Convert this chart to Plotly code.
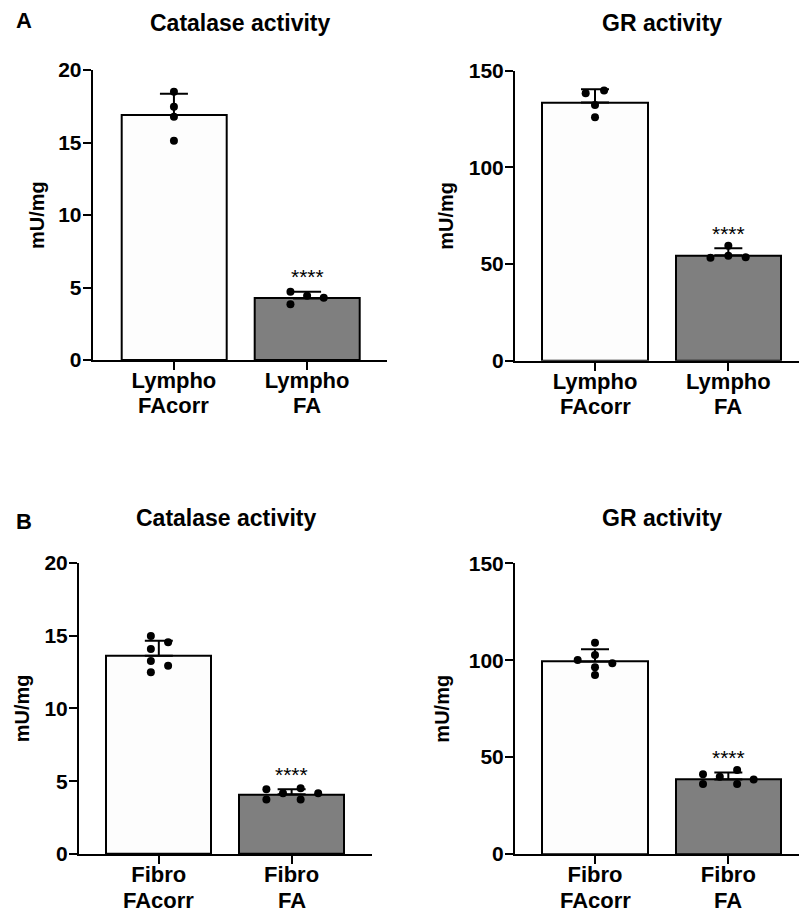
import plotly.graph_objects as go

W, H = 799, 914

# ---------------- data ----------------
cat_line1_lympho = ["Lympho", "Lympho"]
cat_line1_fibro = ["Fibro", "Fibro"]
cat_line2 = ["FAcorr", "FA"]

# Panel A - Catalase (Lympho)
a_cat_mean = [16.9, 4.25]
a_cat_sd = [1.47, 0.46]
a_cat_corr_pts = [18.5, 17.47, 16.78, 15.12]
a_cat_corr_off = [0.0, 0.0, 0.0, 0.0]
a_cat_fa_pts = [4.71, 4.43, 4.30, 3.84]
a_cat_fa_off = [-0.125, 0.0, 0.125, -0.125]

# Panel A - GR (Lympho)
a_gr_mean = [133.5, 54.5]
a_gr_sd = [6.9, 3.6]
a_gr_corr_pts = [138.3, 139.7, 132.3, 125.9]
a_gr_corr_off = [-0.07, 0.068, 0.0, 0.0]
a_gr_fa_pts = [59.5, 53.3, 54.3, 53.5]
a_gr_fa_off = [0.0, -0.134, 0.0, 0.13]

# Panel B - Catalase (Fibro)
b_cat_mean = [13.61, 4.1]
b_cat_sd = [1.03, 0.34]
b_cat_corr_pts = [14.96, 14.53, 14.07, 13.25, 12.92, 12.47]
b_cat_corr_off = [-0.06, 0.07, -0.06, -0.06, 0.07, -0.06]
b_cat_fa_pts = [4.44, 4.17, 4.51, 4.17, 3.75, 3.75]
b_cat_fa_off = [-0.19, -0.065, 0.068, 0.2, -0.19, 0.068]

# Panel B - GR (Fibro)
b_gr_mean = [99.2, 38.5]
b_gr_sd = [6.4, 3.5]
b_gr_corr_pts = [109.0, 102.7, 100.1, 98.4, 96.3, 92.4]
b_gr_corr_off = [0.0, 0.0, -0.13, 0.13, 0.0, 0.0]
b_gr_fa_pts = [41.1, 39.9, 43.3, 38.5, 36.1, 36.1]
b_gr_fa_off = [-0.19, -0.064, 0.066, 0.19, -0.19, 0.066]

y_max_cat = 20
y_max_gr = 150
cat_ticks = [0, 5, 10, 15, 20]
gr_ticks = [0, 50, 100, 150]

# ---------------- layout helpers ----------------
FONT = "Liberation Sans, Arial, sans-serif"
bar_colors = ["#FDFDFD", "#7F7F7F"]

panels = [
    dict(mean=a_cat_mean, sd=a_cat_sd, cp=a_cat_corr_pts, co=a_cat_corr_off, fp=a_cat_fa_pts, fo=a_cat_fa_off,
         cats=cat_line1_lympho, ymax=y_max_cat, ticks=cat_ticks, l=92.7, r=387, t=70, b=360, xr=[-0.61, 1.6],
         title="Catalase activity", tx=240, ty=23, ytx=37),
    dict(mean=a_gr_mean, sd=a_gr_sd, cp=a_gr_corr_pts, co=a_gr_corr_off, fp=a_gr_fa_pts, fo=a_gr_fa_off,
         cats=cat_line1_lympho, ymax=y_max_gr, ticks=gr_ticks, l=515, r=799, t=70.7, b=360.7, xr=[-0.6, 1.53],
         title="GR activity", tx=662, ty=23, ytx=446),
    dict(mean=b_cat_mean, sd=b_cat_sd, cp=b_cat_corr_pts, co=b_cat_corr_off, fp=b_cat_fa_pts, fo=b_cat_fa_off,
         cats=cat_line1_fibro, ymax=y_max_cat, ticks=cat_ticks, l=79, r=371.7, t=562.7, b=854, xr=[-0.601, 1.603],
         title="Catalase activity", tx=225.5, ty=518, ytx=22),
    dict(mean=b_gr_mean, sd=b_gr_sd, cp=b_gr_corr_pts, co=b_gr_corr_off, fp=b_gr_fa_pts, fo=b_gr_fa_off,
         cats=cat_line1_fibro, ymax=y_max_gr, ticks=gr_ticks, l=515, r=799, t=563.3, b=854, xr=[-0.6, 1.53],
         title="GR activity", tx=662, ty=518, ytx=442),
]

fig = go.Figure()
annotations = []

for i, p in enumerate(panels):
    n = "" if i == 0 else str(i + 1)
    xa, ya = "x" + n, "y" + n
    fig.add_trace(go.Bar(
        x=[0, 1], y=p["mean"], width=0.79, xaxis=xa, yaxis=ya,
        marker=dict(color=bar_colors, line=dict(color="black", width=2)),
        error_y=dict(type="data", symmetric=False, array=p["sd"], arrayminus=[0, 0],
                     color="black", thickness=2, width=14),
        hoverinfo="skip",
    ))
    fig.add_trace(go.Scatter(
        x=[0 + o for o in p["co"]], y=p["cp"], mode="markers", xaxis=xa, yaxis=ya,
        marker=dict(color="black", size=8), hoverinfo="skip",
    ))
    fig.add_trace(go.Scatter(
        x=[1 + o for o in p["fo"]], y=p["fp"], mode="markers", xaxis=xa, yaxis=ya,
        marker=dict(color="black", size=8), hoverinfo="skip",
    ))
    axis_common = dict(showline=True, linecolor="black", linewidth=2, ticks="outside", automargin=False,
                       ticklen=8, tickwidth=2, tickcolor="black", showgrid=False, zeroline=False)
    fig.layout["xaxis" + n] = dict(
        domain=[p["l"] / W, p["r"] / W], range=p["xr"], anchor=ya,
        tickvals=[0, 1], ticktext=p["cats"], ticklabelstandoff=-8,
        tickfont=dict(family=FONT, size=22, color="black", weight="bold"),
        **axis_common)
    fig.layout["yaxis" + n] = dict(
        domain=[1 - p["b"] / H, 1 - p["t"] / H], range=[0, p["ymax"]], anchor=xa,
        tickvals=p["ticks"], ticktext=[str(t) for t in p["ticks"]], ticklabelstandoff=-3,
        tickfont=dict(family=FONT, size=21, color="black", weight="bold"),
        **axis_common)
    # second line of category labels
    for k, txt in enumerate(cat_line2):
        annotations.append(dict(text=txt, x=k, y=1 - (p["b"] + 46) / H, xref=xa, yref="paper",
                                showarrow=False, xanchor="center", yanchor="middle",
                                font=dict(family=FONT, size=22, color="black", weight="bold")))
    annotations.append(dict(text=p["title"], x=p["tx"] / W, y=1 - p["ty"] / H, xref="paper", yref="paper",
                            showarrow=False, xanchor="center", yanchor="middle",
                            font=dict(family=FONT, size=23, color="black", weight="bold")))
    annotations.append(dict(text="mU/mg", x=p["ytx"] / W, y=1 - (p["t"] + p["b"]) / 2 / H,
                            xref="paper", yref="paper", textangle=-90, showarrow=False,
                            xanchor="center", yanchor="middle",
                            font=dict(family=FONT, size=20, color="black", weight="bold")))
    annotations.append(dict(text="****", x=1, y=p["mean"][1] + p["sd"][1], xref=xa, yref=ya,
                            showarrow=False, xanchor="center", yanchor="middle", yshift=15,
                            font=dict(family=FONT, size=21, color="black")))

for letter, py in [("A", 21), ("B", 521)]:
    annotations.append(dict(text=letter, x=24 / W, y=1 - py / H, xref="paper", yref="paper",
                            showarrow=False, xanchor="center", yanchor="middle",
                            font=dict(family=FONT, size=22, color="black", weight="bold")))

fig.update_layout(
    width=W, height=H, margin=dict(l=0, r=0, t=0, b=0, pad=0, autoexpand=False),
    paper_bgcolor="white", plot_bgcolor="white", showlegend=False,
    annotations=annotations, bargap=0,
)

fig.write_html("out.html", config={"responsive": False, "displayModeBar": False},
               post_script="document.body.style.margin='0';document.documentElement.style.overflow='hidden';")
